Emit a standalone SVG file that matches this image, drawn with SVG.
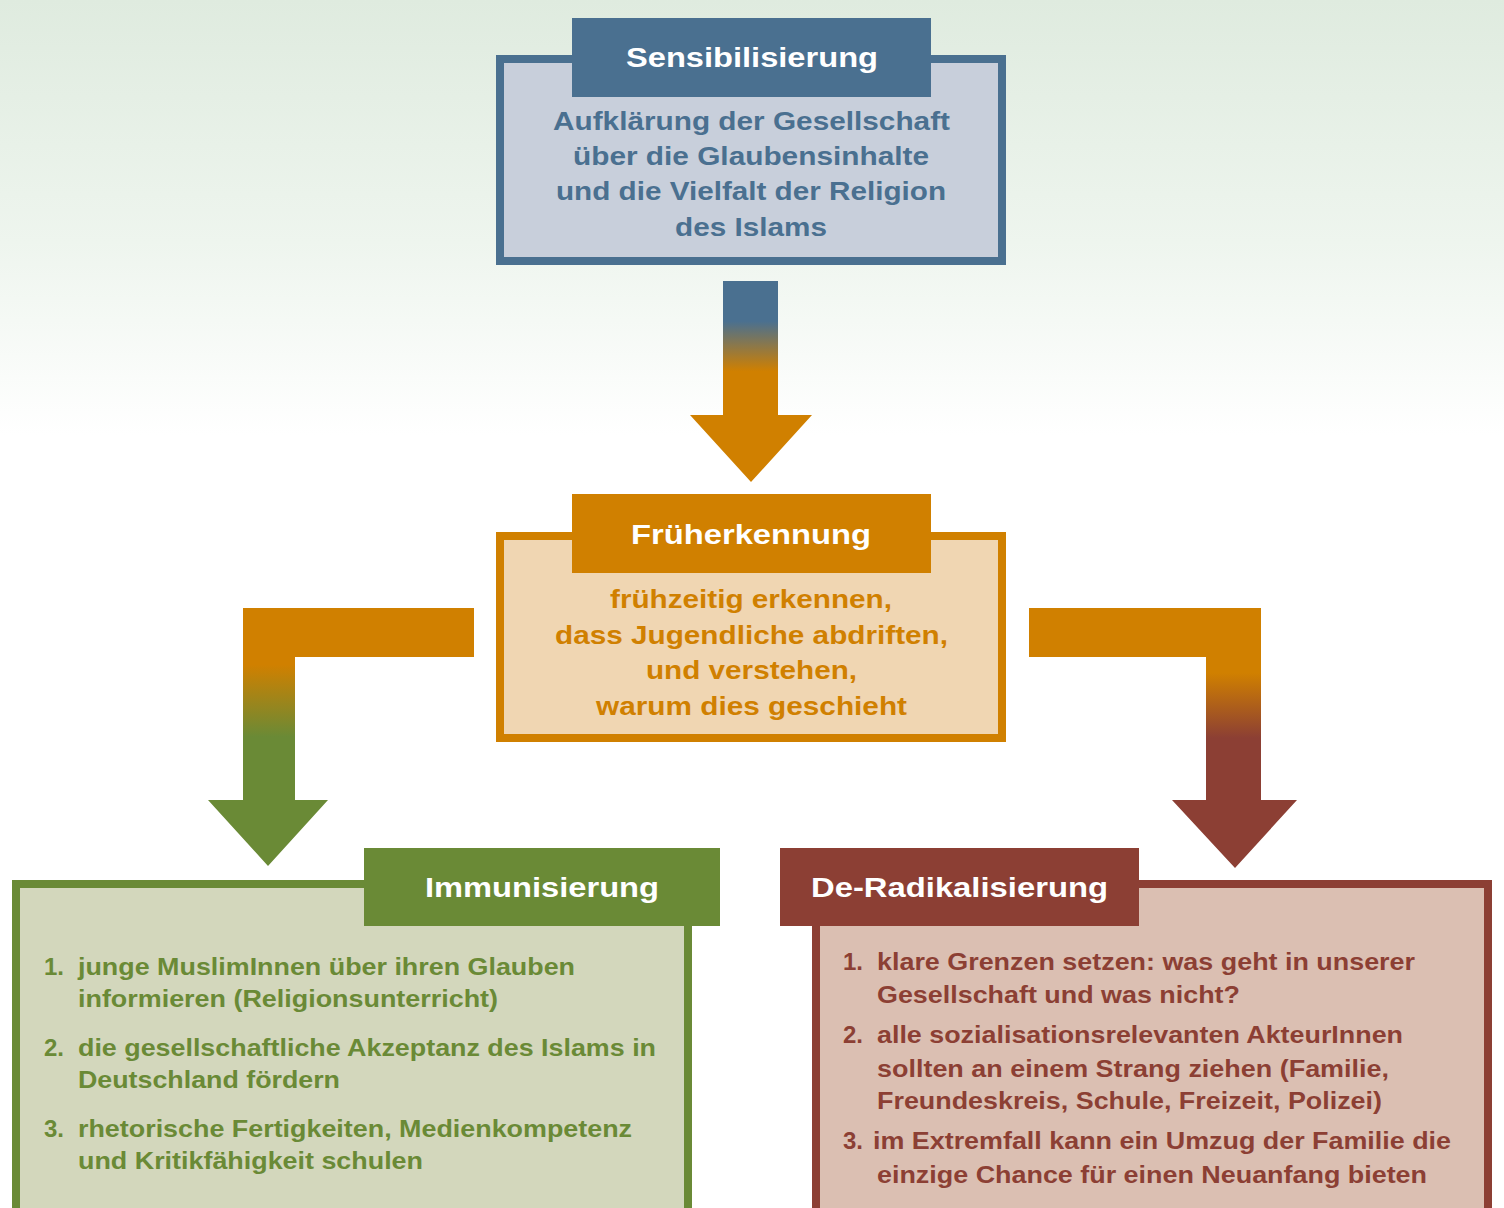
<svg xmlns="http://www.w3.org/2000/svg" width="1504" height="1208" viewBox="0 0 1504 1208">
<defs>
<linearGradient id="bg" x1="0" y1="0" x2="0" y2="1208" gradientUnits="userSpaceOnUse">
<stop offset="0" stop-color="#dfebdf"/>
<stop offset="0.2" stop-color="#eef5ee"/>
<stop offset="0.36" stop-color="#ffffff"/>
<stop offset="1" stop-color="#ffffff"/>
</linearGradient>
<linearGradient id="gTop" x1="0" y1="281" x2="0" y2="482" gradientUnits="userSpaceOnUse">
<stop offset="0" stop-color="#4a7090"/>
<stop offset="0.2" stop-color="#4a7090"/>
<stop offset="0.45" stop-color="#d08000"/>
<stop offset="1" stop-color="#d08000"/>
</linearGradient>
<linearGradient id="gLeft" x1="0" y1="608" x2="0" y2="866" gradientUnits="userSpaceOnUse">
<stop offset="0" stop-color="#d08000"/>
<stop offset="0.22" stop-color="#d08000"/>
<stop offset="0.5" stop-color="#6a8a36"/>
<stop offset="1" stop-color="#6a8a36"/>
</linearGradient>
<linearGradient id="gRight" x1="0" y1="608" x2="0" y2="868" gradientUnits="userSpaceOnUse">
<stop offset="0" stop-color="#d08000"/>
<stop offset="0.25" stop-color="#d08000"/>
<stop offset="0.5" stop-color="#8c3f34"/>
<stop offset="1" stop-color="#8c3f34"/>
</linearGradient>
</defs>
<style>
text { font-family: "Liberation Sans", Arial, sans-serif; font-weight: bold; }
.title { fill: #ffffff; font-size: 28px; }
.body { font-size: 25px; }
.item { font-size: 24px; }
.blue { fill: #4a7090; }
.orange { fill: #d08000; }
.green { fill: #6a8a36; }
.brown { fill: #8c3f34; }
</style>
<rect x="0" y="0" width="1504" height="1208" fill="url(#bg)"/>

<g id="connectors">
<path id="arrow-top" d="M723,281 L778,281 L778,415 L812,415 L751,482 L690,415 L723,415 Z" fill="url(#gTop)"/>
<path id="arrow-left" d="M474,608 L243,608 L243,800 L208,800 L268,866 L328,800 L295,800 L295,657 L474,657 Z" fill="url(#gLeft)"/>
<path id="arrow-right" d="M1029,608 L1261,608 L1261,800 L1297,800 L1235,868 L1172,800 L1206,800 L1206,657 L1029,657 Z" fill="url(#gRight)"/>
</g>

<g id="sensibilisierung">
<rect x="500" y="59" width="502" height="202" fill="#c8cfdb" stroke="#4a7090" stroke-width="8"/>
<rect x="572" y="18" width="359" height="79" fill="#4a7090"/>
<text class="title" x="626" y="67" textLength="252" lengthAdjust="spacingAndGlyphs">Sensibilisierung</text>
<text class="body blue" x="553" y="130" textLength="397" lengthAdjust="spacingAndGlyphs">Aufklärung der Gesellschaft</text>
<text class="body blue" x="573" y="165" textLength="356" lengthAdjust="spacingAndGlyphs">über die Glaubensinhalte</text>
<text class="body blue" x="556" y="200" textLength="390" lengthAdjust="spacingAndGlyphs">und die Vielfalt der Religion</text>
<text class="body blue" x="675" y="236" textLength="152" lengthAdjust="spacingAndGlyphs">des Islams</text>
</g>

<g id="frueherkennung">
<rect x="500" y="536" width="502" height="202" fill="#f0d6b2" stroke="#d08000" stroke-width="8"/>
<rect x="572" y="494" width="359" height="79" fill="#d08000"/>
<text class="title" x="631" y="544" textLength="240" lengthAdjust="spacingAndGlyphs">Früherkennung</text>
<text class="body orange" x="610" y="608" textLength="282" lengthAdjust="spacingAndGlyphs">frühzeitig erkennen,</text>
<text class="body orange" x="555" y="644" textLength="393" lengthAdjust="spacingAndGlyphs">dass Jugendliche abdriften,</text>
<text class="body orange" x="646" y="679" textLength="211" lengthAdjust="spacingAndGlyphs">und verstehen,</text>
<text class="body orange" x="596" y="715" textLength="311" lengthAdjust="spacingAndGlyphs">warum dies geschieht</text>
</g>

<g id="immunisierung">
<rect x="16" y="884" width="672" height="330" fill="#d3d7bc" stroke="#6a8a36" stroke-width="8"/>
<rect x="364" y="848" width="356" height="78" fill="#6a8a36"/>
<text class="title" x="425" y="897" textLength="234" lengthAdjust="spacingAndGlyphs">Immunisierung</text>
<text class="item green" x="44" y="975">1.</text>
<text class="item green" x="78" y="975" textLength="497" lengthAdjust="spacingAndGlyphs">junge MuslimInnen über ihren Glauben</text>
<text class="item green" x="78" y="1007" textLength="420" lengthAdjust="spacingAndGlyphs">informieren (Religionsunterricht)</text>
<text class="item green" x="44" y="1056">2.</text>
<text class="item green" x="78" y="1056" textLength="578" lengthAdjust="spacingAndGlyphs">die gesellschaftliche Akzeptanz des Islams in</text>
<text class="item green" x="78" y="1088" textLength="262" lengthAdjust="spacingAndGlyphs">Deutschland fördern</text>
<text class="item green" x="44" y="1137">3.</text>
<text class="item green" x="78" y="1137" textLength="554" lengthAdjust="spacingAndGlyphs">rhetorische Fertigkeiten, Medienkompetenz</text>
<text class="item green" x="78" y="1169" textLength="345" lengthAdjust="spacingAndGlyphs">und Kritikfähigkeit schulen</text>
</g>

<g id="de-radikalisierung">
<rect x="816" y="884" width="672" height="330" fill="#dbbfb2" stroke="#8c3f34" stroke-width="8"/>
<rect x="780" y="848" width="359" height="78" fill="#8c3f34"/>
<text class="title" x="811" y="897" textLength="297" lengthAdjust="spacingAndGlyphs">De-Radikalisierung</text>
<text class="item brown" x="843" y="970">1.</text>
<text class="item brown" x="877" y="970" textLength="538" lengthAdjust="spacingAndGlyphs">klare Grenzen setzen: was geht in unserer</text>
<text class="item brown" x="877" y="1003" textLength="363" lengthAdjust="spacingAndGlyphs">Gesellschaft und was nicht?</text>
<text class="item brown" x="843" y="1043">2.</text>
<text class="item brown" x="877" y="1043" textLength="526" lengthAdjust="spacingAndGlyphs">alle sozialisationsrelevanten AkteurInnen</text>
<text class="item brown" x="877" y="1077" textLength="512" lengthAdjust="spacingAndGlyphs">sollten an einem Strang ziehen (Familie,</text>
<text class="item brown" x="877" y="1109" textLength="505" lengthAdjust="spacingAndGlyphs">Freundeskreis, Schule, Freizeit, Polizei)</text>
<text class="item brown" x="843" y="1149">3.</text>
<text class="item brown" x="873" y="1149" textLength="578" lengthAdjust="spacingAndGlyphs">im Extremfall kann ein Umzug der Familie die</text>
<text class="item brown" x="877" y="1183" textLength="550" lengthAdjust="spacingAndGlyphs">einzige Chance für einen Neuanfang bieten</text>
</g>
</svg>
